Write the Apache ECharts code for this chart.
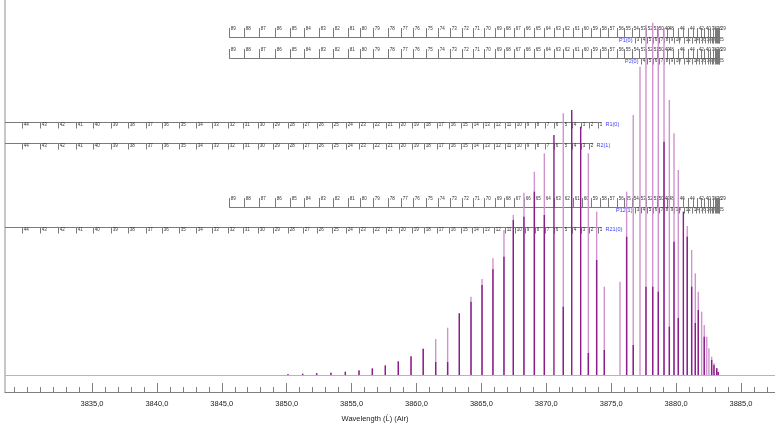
<!DOCTYPE html>
<html><head><meta charset="utf-8">
<script src="https://cdn.jsdelivr.net/npm/echarts@6/dist/echarts.min.js"></script>
<style>html,body{margin:0;padding:0;background:#fff}#c{width:775px;height:423px}</style>
</head><body><div id="c"></div>
<script>
// ---- data (wavelength in Å, relative intensity) ----
const lightLines = [[3850.10,1.0],[3851.23,1.3],[3852.31,2.0],[3853.41,2.3],[3854.52,3.3],[3855.57,4.7],[3856.60,6.7],[3857.60,9.7],[3858.60,14.0],[3859.58,19.0],[3860.52,26.7],[3861.48,36.0],[3862.40,47.3],[3863.30,61.7],[3864.20,78.3],[3865.05,96.0],[3865.89,116.7],[3866.74,145.0],[3867.46,160.0],[3868.28,182.3],[3869.08,203.3],[3869.85,221.7],[3871.31,261.7],[3873.24,221.7],[3873.88,163.3],[3874.47,88.3],[3875.68,93.3],[3876.19,183.3],[3876.70,260.0],[3877.22,308.3],[3877.68,350.0],[3878.20,352.3],[3878.63,348.3],[3879.07,346.7],[3879.48,275.0],[3879.84,241.7],[3880.17,205.0],[3880.86,149.0],[3881.20,125.0],[3881.48,101.7],[3881.71,83.3],[3881.97,63.3],[3882.17,50.0],[3882.36,38.3],[3882.53,26.7],[3882.74,18.3],[3882.92,11.7],[3883.13,6.7],[3883.25,3.3]];
const darkLines = [[3850.10,0.7],[3851.23,1.2],[3852.31,1.8],[3853.41,2.2],[3854.52,3.2],[3855.57,4.6],[3856.60,6.5],[3857.60,9.5],[3858.60,13.5],[3859.58,18.5],[3860.52,26.0],[3861.48,13.0],[3862.40,13.0],[3863.30,61.7],[3864.20,73.3],[3865.05,90.0],[3865.89,105.7],[3866.74,118.3],[3867.46,155.0],[3868.28,158.3],[3869.08,183.3],[3869.85,160.0],[3870.59,240.0],[3871.31,68.3],[3871.96,265.0],[3872.65,248.3],[3873.24,22.0],[3873.88,115.0],[3874.47,25.0],[3876.19,138.3],[3876.70,30.0],[3877.68,88.3],[3878.20,88.3],[3878.63,83.3],[3879.07,233.3],[3879.48,48.3],[3879.84,133.3],[3880.17,57.0],[3880.56,163.3],[3880.86,138.3],[3881.20,88.3],[3881.48,52.0],[3881.71,65.0],[3882.17,38.3],[3882.74,15.0],[3882.92,10.0],[3883.13,6.7],[3883.25,3.0]];

// R-branch ladder (N and wavelength)
const rLadderN = [44,43,42,41,40,39,38,37,36,35,34,33,32,31,30,29,28,27,26,25,24,23,22,21,20,19,18,17,16,15,14,13,12,11,10,9,8,7,6,5,4,3,2,1];
const rLadderWl = [3829.58,3830.99,3832.40,3833.77,3835.10,3836.46,3837.80,3839.14,3840.42,3841.70,3842.99,3844.22,3845.45,3846.61,3847.81,3848.97,3850.12,3851.23,3852.33,3853.47,3854.57,3855.59,3856.67,3857.65,3858.65,3859.65,3860.60,3861.56,3862.50,3863.43,3864.25,3865.15,3865.97,3866.82,3867.59,3868.36,3869.13,3869.90,3870.59,3871.31,3872.00,3872.67,3873.31,3873.96];
// P-branch ladder, returning (high N) part
const pHighN = [89,88,87,86,85,84,83,82,81,80,79,78,77,76,75,74,73,72,71,70,69,68,67,66,65,64,63,62,61,60,59,58,57,56,55,54,53,52,51,50,49,48,47,46,45,44,43,42,41,40,39,38,37,36,35,34,33,32,31,30,29];
const pHighWl = [3845.58,3846.71,3847.89,3849.10,3850.25,3851.36,3852.49,3853.59,3854.70,3855.65,3856.67,3857.78,3858.81,3859.75,3860.73,3861.68,3862.58,3863.48,3864.38,3865.24,3866.05,3866.74,3867.53,3868.28,3869.05,3869.82,3870.59,3871.31,3872.03,3872.73,3873.44,3874.14,3874.78,3875.42,3876.01,3876.58,3877.14,3877.66,3878.12,3878.55,3878.97,3879.32,3879.76,3880.17,3880.57,3880.94,3881.30,3881.63,3881.92,3882.17,3882.42,3882.64,3882.82,3882.96,3883.07,3883.15,3883.21,3883.25,3883.27,3883.29,3883.31];
const pHighShown = [89,88,87,86,85,84,83,82,81,80,79,78,77,76,75,74,73,72,71,70,69,68,67,66,65,64,63,62,61,60,59,58,57,56,55,54,53,52,51,50,49,48,46,44,42,40,38,36,29];
// P-branch ladder, approaching (low N) part
const pLowN = [3,4,5,6,7,8,9,10,11,12,13,14,15,16,17,18,19,20,21,22,23,24,25,26,27,28];
const pLowWl = [3876.86,3877.32,3877.78,3878.24,3878.68,3879.09,3879.48,3879.84,3880.22,3880.61,3880.92,3881.25,3881.53,3881.79,3882.03,3882.23,3882.42,3882.60,3882.75,3882.88,3883.00,3883.09,3883.17,3883.23,3883.27,3883.29];
const pLowShown = [3,4,5,6,7,8,9,10,12,14,16,18,20,25];

const majorTicks = [3835,3840,3845,3850,3855,3860,3865,3870,3875,3880,3885];
const minorTicks = [3829,3830,3831,3832,3833,3834,3835,3836,3837,3838,3839,3840,3841,3842,3843,3844,3845,3846,3847,3848,3849,3850,3851,3852,3853,3854,3855,3856,3857,3858,3859,3860,3861,3862,3863,3864,3865,3866,3867,3868,3869,3870,3871,3872,3873,3874,3875,3876,3877,3878,3879,3880,3881,3882,3883,3884,3885,3886,3887];

// ---- layout ----
const X_MIN = 3828.30, X_MAX = 3887.62;
const FONT = '"Liberation Sans", Arial, sans-serif';
const ladderRows = [
  {name:'P1(0)',  kind:'P', lowFrom:3, y:338},
  {name:'P2(0)',  kind:'P', lowFrom:4, y:317},
  {name:'R1(0)',  kind:'R', rTo:1, y:253},
  {name:'R2(1)',  kind:'R', rTo:2, y:232},
  {name:'P12(1)', kind:'P', lowFrom:3, y:168},
  {name:'R21(0)', kind:'R', rTo:1, y:148}
];
const LAD = '#7a7a7a', LABC = '#333', NAMEC = '#3b3bff';

function buildLadder(row){
  const items = [];
  if (row.kind === 'R') {
    const idx = rLadderN.map((n,i)=>i).filter(i => rLadderN[i] >= row.rTo);
    const last = rLadderWl[idx[idx.length-1]];
    items.push({t:'rail', a:X_MIN, b:last, pad:4});
    idx.forEach(i => items.push({t:'down', w:rLadderWl[i], lab:String(rLadderN[i]), len:6}));
    items.push({t:'nameR', w:last, lab:row.name});
  } else {
    items.push({t:'rail', a:pHighWl[0], b:pHighWl[pHighWl.length-1], pad:0.5});
    pHighN.forEach((n,i) => items.push({t:'up', w:pHighWl[i], lab: pHighShown.includes(n) ? String(n) : ''}));
    let first = null;
    pLowN.forEach((n,i) => {
      if (n >= row.lowFrom) {
        if (first === null) first = pLowWl[i];
        items.push({t:'down', w:pLowWl[i], lab: pLowShown.includes(n) ? String(n) : '', len:6});
      }
    });
    items.push({t:'nameP', w:first, lab:row.name});
  }
  return items;
}

function txt(x, y, s, size, color, align){
  return {type:'text', style:{text:s, x:x, y:y, fill:color, font: size + 'px ' + FONT,
    align:align, verticalAlign:'middle', textAlign:align, textVerticalAlign:'middle'}};
}

function ladderSeries(row){
  const items = buildLadder(row);
  return {
    type:'custom', z:1, silent:true, clip:false,
    data: items.map(it => [it.w !== undefined ? it.w : it.a, row.y]),
    renderItem: function(params, api){
      const it = items[params.dataIndex];
      const y0 = Math.round(api.coord([X_MIN, row.y])[1]) + 0.5;
      if (it.t === 'rail') {
        const xa = api.coord([it.a, row.y])[0];
        const xb = api.coord([it.b, row.y])[0] + it.pad;
        return {type:'line', shape:{x1:xa, y1:y0, x2:xb, y2:y0}, style:{stroke:LAD, lineWidth:1}};
      }
      const x = Math.round(api.coord([it.w, row.y])[0]) + 0.5;
      if (it.t === 'down') {
        const ch = [{type:'line', shape:{x1:x, y1:y0, x2:x, y2:y0 + it.len}, style:{stroke:LAD, lineWidth:1}}];
        if (it.lab) ch.push(txt(x + 1.2, y0 + 2.6, it.lab, 4.5, LABC, 'left'));
        return {type:'group', children:ch};
      }
      if (it.t === 'up') {
        const ch = [{type:'line', shape:{x1:x, y1:y0, x2:x, y2:y0 - 9.5}, style:{stroke:LAD, lineWidth:1}}];
        if (it.lab) ch.push(txt(x + 1.2, y0 - 8.5, it.lab, 4.5, LABC, 'left'));
        return {type:'group', children:ch};
      }
      if (it.t === 'nameR') return txt(x + 7, y0 + 2, it.lab, 5.5, NAMEC, 'left');
      if (it.t === 'nameP') return txt(x - 3, y0 + 2.8, it.lab, 5.5, NAMEC, 'right');
      return null;
    }
  };
}

function specSeries(data, color, z, extra){
  return Object.assign({
    type:'custom', z:z, silent:true, data:data,
    renderItem: function(params, api){
      const a = api.coord([api.value(0), 0]);
      const b = api.coord([api.value(0), api.value(1)]);
      return {type:'line', shape:{x1:a[0], y1:a[1], x2:b[0], y2:b[1]}, style:{stroke:color, lineWidth:1.4}};
    }
  }, extra || {});
}

const chart = echarts.init(document.getElementById('c'), null, {renderer:'canvas'});
const fmt = v => Number(v).toFixed(1).replace('.', ',');
chart.setOption({
  animation:false,
  backgroundColor:'#ffffff',
  grid:{left:5, right:0, top:0, bottom:31, containLabel:false},
  xAxis:[
    {type:'value', min:X_MIN, max:X_MAX, position:'bottom',
     axisLine:{show:true, onZero:false, lineStyle:{color:'#808080', width:1}},
     axisTick:{show:true, inside:true, length:5, customValues:minorTicks, lineStyle:{color:'#808080'}},
     axisLabel:{show:false}, splitLine:{show:false}},
    {type:'value', min:X_MIN, max:X_MAX, position:'bottom',
     axisLine:{show:false, onZero:false},
     axisTick:{show:true, inside:true, length:9, customValues:majorTicks, lineStyle:{color:'#808080'}},
     axisLabel:{show:true, customValues:majorTicks, formatter:fmt, fontSize:7.5, color:'#222', margin:8, fontFamily:FONT},
     splitLine:{show:false}}
  ],
  yAxis:{type:'value', min:-17, max:375,
    axisLine:{show:true, onZero:false, lineStyle:{color:'#b4b4b4', width:1.5}},
    axisTick:{show:false}, axisLabel:{show:false}, splitLine:{show:false}},
  graphic:[{type:'text', x:375, y:419, style:{text:'Wavelength (Ĺ) (Air)', fill:'#222',
    font:'7.5px ' + FONT, textAlign:'center', textVerticalAlign:'middle', align:'center', verticalAlign:'middle'}}],
  series:[
    ...ladderRows.map(ladderSeries),
    specSeries(lightLines, '#cf94cf', 3, {markLine:{silent:true, symbol:'none', label:{show:false},
      lineStyle:{color:'#d6a0d6', width:1.2, type:'solid'}, data:[{yAxis:0}]}}),
    specSeries(darkLines, '#8a1d8a', 4)
  ]
});
</script>
</body></html>
